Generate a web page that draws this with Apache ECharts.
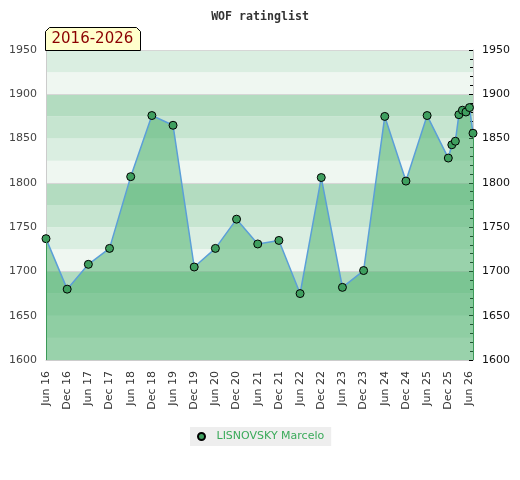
<!DOCTYPE html>
<html>
<head>
    <meta charset="utf-8">
    <title>WOF ratinglist</title>
    <script src="https://cdn.jsdelivr.net/npm/echarts@6/dist/echarts.min.js"></script>
    <style>
        html, body { margin: 0; padding: 0; background: #fff; }
        #main { width: 520px; height: 480px; }
    </style>
</head>
<body>
<div id="main"></div>
<script>
    // rating periods and ratings
    var periods = ['2016-06', '2016-12', '2017-06', '2017-12', '2018-06', '2018-12', '2019-06', '2019-12',
        '2020-06', '2020-12', '2021-06', '2021-12', '2022-06', '2022-12', '2023-06', '2023-12',
        '2024-06', '2024-12', '2025-06', '2025-12', '2026-01', '2026-02', '2026-03', '2026-04',
        '2026-05', '2026-06', '2026-07'];
    var ratings = [1737, 1680, 1708, 1726, 1807, 1876, 1865, 1705,
        1726, 1759, 1731, 1735, 1675, 1806, 1682, 1701,
        1875, 1802, 1876, 1828, 1843, 1847, 1877, 1882,
        1880, 1885, 1856];
    var playerName = 'LISNOVSKY Marcelo';
    var rangeLabel = '2016-2026';
    var monthNames = ['Jan', 'Feb', 'Mar', 'Apr', 'May', 'Jun', 'Jul', 'Aug', 'Sep', 'Oct', 'Nov', 'Dec'];
    var bandColors = ['#eff7f1', '#daeee1', '#c6e5d0', '#b3dcc0'];

    var yMin = 1600, yMax = 1950;

    // months counted from Jun 2016
    function toMonth(p) {
        var a = p.split('-');
        return (parseInt(a[0], 10) - 2016) * 12 + (parseInt(a[1], 10) - 6);
    }
    var points = periods.map(function (p, i) { return [toMonth(p), ratings[i]]; });
    var first = points[0], last = points[points.length - 1];

    var myChart = echarts.init(document.getElementById('main'));

    var plainNumber = function (v) { return String(v); };

    var hiddenY = {
        type: 'value', min: yMin, max: yMax, position: 'left',
        axisLine: {show: false}, axisTick: {show: false}, axisLabel: {show: false}
    };

    var option = {
        animation: false,
        title: {
            text: 'WOF ratinglist',
            left: 'center',
            top: 6,
            textStyle: {fontFamily: 'DejaVu Sans Mono', fontWeight: 'bold', fontSize: 11.6, color: '#333'}
        },
        legend: {
            data: [playerName],
            left: 190,
            top: 427,
            backgroundColor: '#eeeeee',
            padding: [4, 7, 4, 7],
            icon: 'circle',
            itemWidth: 20,
            itemHeight: 7,
            textStyle: {color: '#3aaa5a', fontFamily: 'DejaVu Sans', fontSize: 11}
        },
        grid: {left: 46, right: 47, top: 50, bottom: 120},
        xAxis: {
            type: 'value',
            min: 0,
            max: last[0],
            interval: 6,
            axisLine: {lineStyle: {color: '#cccccc'}},
            axisTick: {show: false},
            splitLine: {show: false},
            axisLabel: {
                rotate: 90,
                margin: 11,
                showMaxLabel: false,
                color: '#333',
                fontFamily: 'DejaVu Sans',
                fontSize: 11,
                formatter: function (v) {
                    if (v % 6 !== 0) return '';
                    var m = (v + 5) % 12;
                    var y = 2016 + Math.floor((v + 5) / 12);
                    return monthNames[m] + ' ' + String(y).slice(2);
                }
            }
        },
        yAxis: [
            {
                type: 'value', min: yMin, max: yMax, interval: 50, position: 'left',
                axisLine: {show: true, lineStyle: {color: '#cccccc'}},
                axisTick: {show: false},
                splitLine: {show: false},
                axisLabel: {color: '#444', fontFamily: 'DejaVu Sans', fontSize: 11, margin: 9, formatter: plainNumber}
            },
            {
                type: 'value', min: yMin, max: yMax, interval: 50, position: 'right',
                axisLine: {show: true, lineStyle: {color: '#cccccc'}},
                axisTick: {show: true, inside: true, length: 4, lineStyle: {color: '#000'}},
                minorTick: {show: true, splitNumber: 5, length: 3, lineStyle: {color: '#000'}},
                splitLine: {show: false},
                axisLabel: {color: '#111', fontFamily: 'DejaVu Sans', fontSize: 11, margin: 9, formatter: plainNumber}
            },
            Object.assign({}, hiddenY, {
                interval: 25,
                splitLine: {show: false},
                splitArea: {show: true, areaStyle: {color: bandColors, opacity: 1}}
            }),
            Object.assign({}, hiddenY, {
                interval: 100,
                splitLine: {show: true, lineStyle: {color: '#d6d6d6', width: 1}}
            })
        ],
        series: [
            {
                name: playerName,
                type: 'line',
                yAxisIndex: 0,
                data: points,
                clip: false,
                symbol: 'circle',
                symbolSize: 8,
                itemStyle: {color: '#3f9f5f', borderColor: '#000', borderWidth: 1},
                lineStyle: {color: '#5b9fd8', width: 1.5},
                areaStyle: {color: 'rgba(67,173,101,0.5)', opacity: 1, origin: 'start'},
                markLine: {
                    silent: true,
                    symbol: 'none',
                    label: {show: false},
                    lineStyle: {color: '#3c9a58', width: 1, type: 'solid'},
                    data: [
                        [{coord: [first[0], yMin]}, {coord: [first[0], first[1]]}],
                        [{coord: [last[0], yMin]}, {coord: [last[0], last[1]]}]
                    ]
                }
            }
        ],
        graphic: [
            {
                type: 'polygon',
                z: 100,
                shape: {points: [[45.5, 50.5], [45.5, 31.5], [49.5, 27.5], [136.5, 27.5], [140.5, 31.5], [140.5, 50.5]]},
                style: {fill: '#ffffcc', stroke: '#000', lineWidth: 1}
            },
            {
                type: 'text',
                z: 101,
                x: 51.5,
                y: 39.5,
                style: {
                    text: rangeLabel,
                    fill: '#8b0000',
                    font: '15px "DejaVu Sans"',
                    verticalAlign: 'middle'
                }
            }
        ]
    };

    myChart.setOption(option);
</script>
</body>
</html>
